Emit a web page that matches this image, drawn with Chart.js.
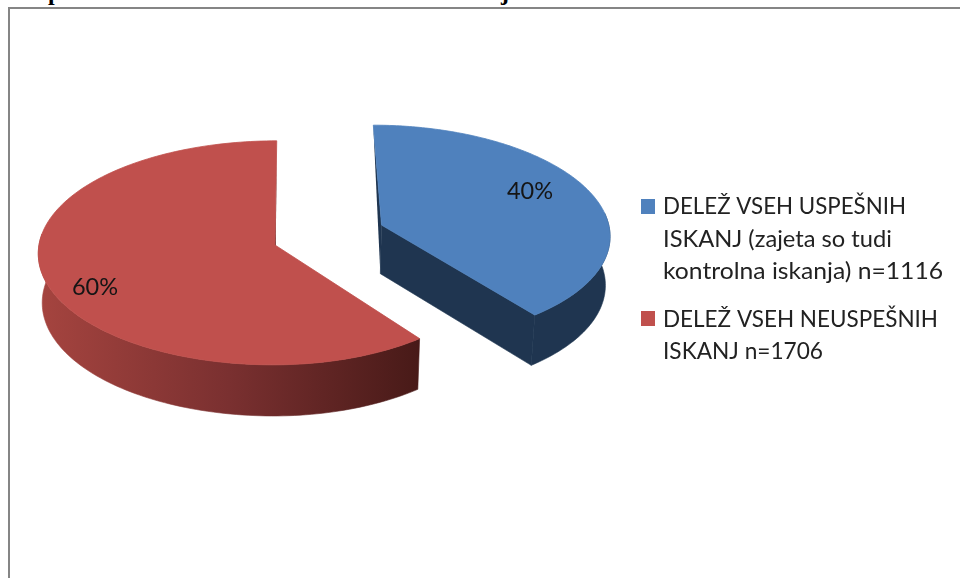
<!DOCTYPE html>
<html lang="sl">
<head>
<meta charset="utf-8">
<title>Delež iskanj</title>
<script src="https://cdn.jsdelivr.net/npm/chart.js@4"></script>
<style>
  html,body{margin:0;padding:0;background:#fff;width:960px;height:578px;overflow:hidden}
  #frame{position:absolute;left:8px;top:7px;width:952px;height:571px;border-left:2px solid #858585;border-top:2px solid #858585;box-sizing:border-box;filter:blur(.4px)}
  #wrap{position:absolute;left:0;top:0;width:960px;height:578px;filter:blur(.45px)}
  .cut{position:absolute;font:bold 24px "Liberation Serif",serif;color:#000;line-height:24px}
</style>
</head>
<body>
<div class="cut" style="left:48px;top:-20px">p</div>
<div class="cut" style="left:501px;top:-20px">j</div>
<div id="frame"></div>
<div id="wrap"><canvas id="c" width="960" height="578"></canvas></div>
<script>
const categories = [
  ["DELEŽ VSEH USPEŠNIH", "ISKANJ (zajeta so tudi", "kontrolna iskanja) n=1116"],
  ["DELEŽ VSEH NEUSPEŠNIH", "ISKANJ n=1706"]
];
const values = [1116, 1706];
const topColors = ["#4F81BD", "#C0504D"];

// 3D view of the tilted pie
const view = {xc:300, yc:245, xr:236, yr:112, k:.07, depth:49, depthK:.08, shrink:.015};
const explode = [[.35,-.18],[-.106,0]];
const eastScale = [.975,.96], yScale = [.985,1], shear = [.012,0];
const labelSpots = [[530,191],[95,287]];
const legendSpots = [
  {box:[641,199],text:663,base:[214,247,279],width:[243,229,280]},
  {box:[641,311],text:663,base:[327,359],width:[275,160]}
];

function proj(u,v,z){
  const s=(1+view.k*v)*(1-view.shrink*z);
  return [view.xc+view.xr*u*s, view.yc+view.yr*v*s+z*view.depth*(1+view.depthK*v)];
}
function outline(i,a0,a1,z){
  const pts=[], n=160, [eu,ev]=explode[i];
  for(let j=0;j<=n;j++){
    const a=a0+(a1-a0)*j/n, c=Math.cos(a), sn=Math.sin(a)*yScale[i];
    pts.push(proj(eu+(c>0?c*eastScale[i]:c)+shear[i]*sn,ev+sn,z));
  }
  return pts;
}
function fillPoly(ctx,pts,color,lw){
  ctx.beginPath(); pts.forEach((p,j)=>j?ctx.lineTo(p[0],p[1]):ctx.moveTo(p[0],p[1]));
  ctx.closePath(); ctx.fillStyle=color; ctx.fill();
  if(lw){ctx.strokeStyle=color; ctx.lineWidth=lw; ctx.stroke();}
}
const pie3d = {
  id:'pie3d',
  beforeDatasetsDraw(chart){
    const ctx=chart.ctx, arcs=chart.getDatasetMeta(0).data;
    const redSide=ctx.createLinearGradient(40,0,418,0);
    redSide.addColorStop(0,"#A5443F"); redSide.addColorStop(.5,"#7A3030"); redSide.addColorStop(1,"#481A18");
    const sides=["#1F3550",redSide], edges=["#1F3550","#481A18"];
    [1,0].forEach(i=>{
      const a0=arcs[i].startAngle,a1=arcs[i].endAngle,[eu,ev]=explode[i];
      const apexT=proj(eu,ev,0),apexB=proj(eu,ev,1);
      const top=outline(i,a0,a1,0),bot=outline(i,a0,a1,1);
      // the slice edge that faces the viewer, or the thin sliver of the rear one
      const last=top.length-1;
      if(i===0){
        fillPoly(ctx,[apexT,top[last],bot[last],apexB],edges[i],.6);
        fillPoly(ctx,[apexT,top[0],apexB],edges[i]);
      }else{
        fillPoly(ctx,[apexT,top[last],apexB],edges[i]);
      }
      // only the front part of the rim is visible
      const fT=[],fB=[];
      top.forEach((p,j)=>{const a=a0+(a1-a0)*j/160; if(Math.sin(a)>-.12){fT.push(p);fB.push(bot[j]);}});
      fillPoly(ctx,fT.concat(fB.reverse()),sides[i],.6);
      fillPoly(ctx,[apexT].concat(top),topColors[i],.8);
    });
    return false;
  },
  afterDraw(chart){
    const ctx=chart.ctx, total=values.reduce((a,b)=>a+b,0);
    ctx.save();
    ctx.font='23.5px Lato'; ctx.fillStyle='#151515';
    ctx.textAlign='center'; ctx.textBaseline='middle';
    values.forEach((v,i)=>ctx.fillText(Math.round(v/total*100)+'%',labelSpots[i][0],labelSpots[i][1]));
    ctx.font='22.5px Lato';
    ctx.textAlign='left'; ctx.textBaseline='alphabetic'; ctx.fillStyle='#222';
    categories.forEach((lines,i)=>{
      const s=legendSpots[i];
      ctx.save(); ctx.fillStyle=topColors[i]; ctx.fillRect(s.box[0],s.box[1],14,15); ctx.restore();
      lines.forEach((t,j)=>{
        ctx.save();
        ctx.translate(s.text,s.base[j]);
        ctx.scale(s.width[j]/ctx.measureText(t).width,1);
        ctx.fillText(t,0,0);
        ctx.restore();
      });
    });
    ctx.restore();
  }
};
new Chart(document.getElementById('c'),{
  type:'pie',
  data:{labels:categories.map(l=>l.join(' ')),datasets:[{data:values,backgroundColor:topColors,borderWidth:0}]},
  options:{responsive:false,animation:false,plugins:{legend:{display:false},tooltip:{enabled:false}}},
  plugins:[pie3d]
});
</script>
</body>
</html>
